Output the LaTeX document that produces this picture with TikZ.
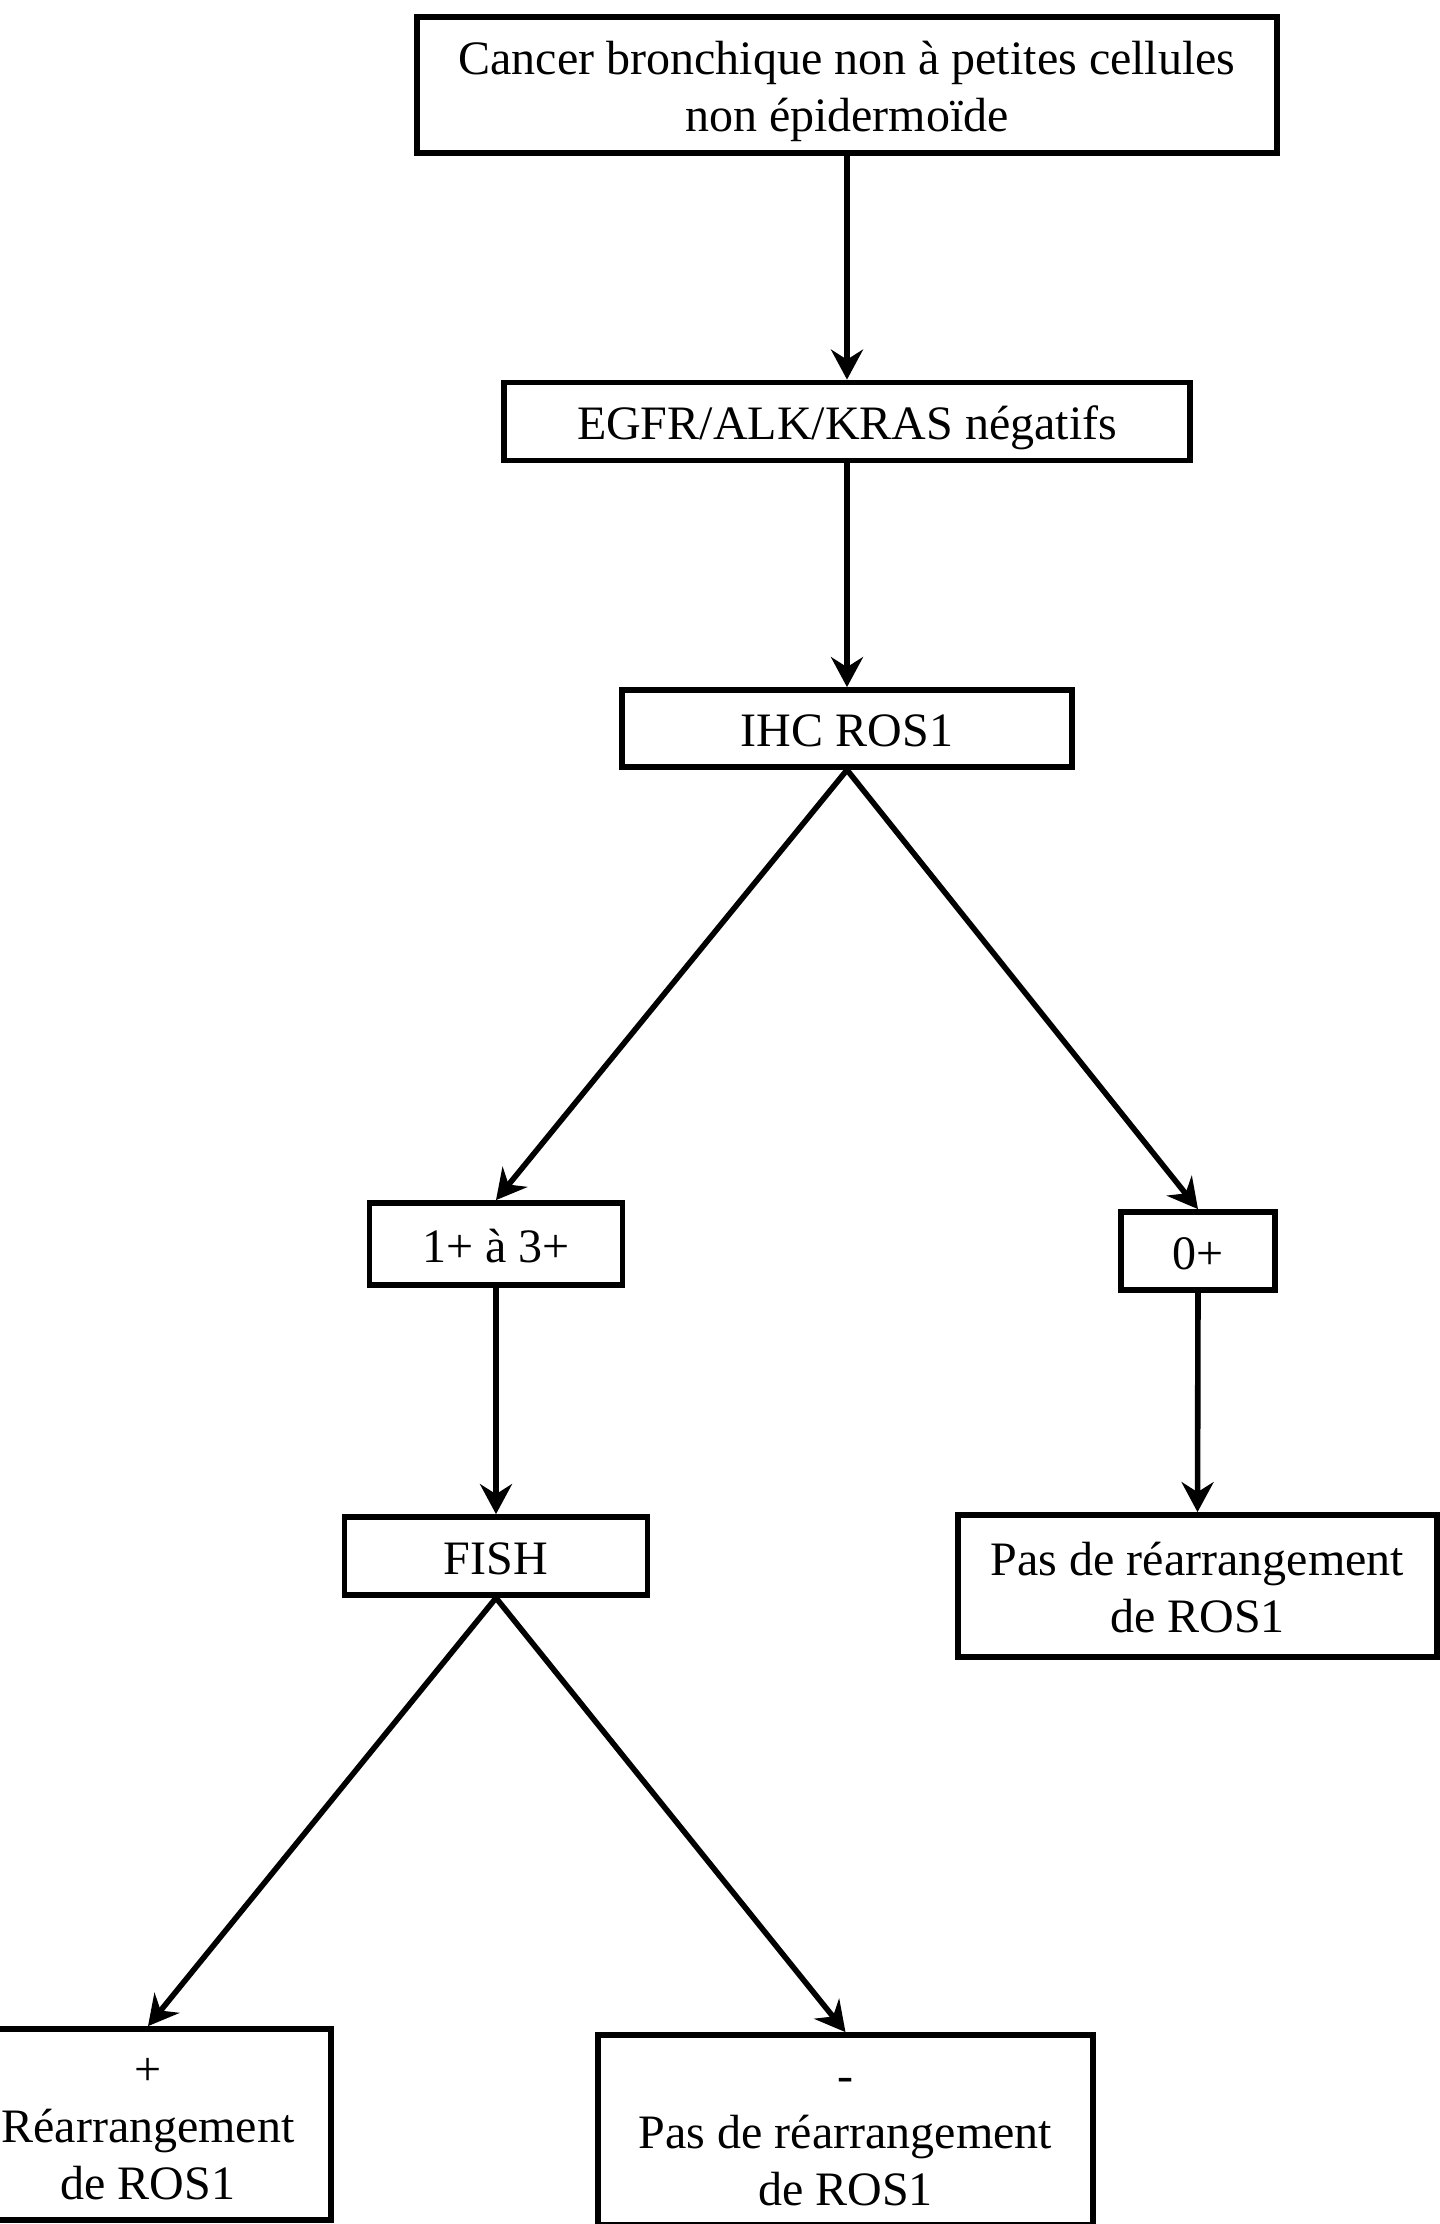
\documentclass[tikz,border=0pt]{standalone}
\usepackage{fontspec}
\setmainfont{Liberation Serif}
\usetikzlibrary{arrows.meta}
\newcommand\boxtext[1]{\raisebox{-3.5pt}[\height][\depth]{\begin{tabular}{@{}c@{}}#1\end{tabular}}}
\begin{document}
\begin{tikzpicture}[x=0.5pt,y=-0.5pt,
  box/.style={draw, line width=2.9pt, rectangle, inner sep=0pt,
              font=\fontsize{24}{28.5}\selectfont},
  arr/.style={line width=2.8pt, -{Stealth[length=15pt,width=16pt,inset=5pt]}}]
\useasboundingbox (0,0) rectangle (1440,2224);
\node[box, minimum width=430pt, minimum height=68pt] (n1) at (847,85)
  {\boxtext{Cancer bronchique non à petites cellules\\non épidermoïde}};
\node[box, minimum width=343pt, minimum height=39pt] (n2) at (847,421.5)
  {\boxtext{EGFR/ALK/KRAS négatifs}};
\node[box, minimum width=225pt, minimum height=38.5pt] (n3) at (847,728.5)
  {\boxtext{IHC ROS1}};
\node[box, minimum width=126.5pt, minimum height=41pt] (n4) at (496,1244)
  {\boxtext{1+ à 3+}};
\node[box, minimum width=77pt, minimum height=39pt] (n5) at (1198,1251)
  {\boxtext{0+}};
\node[box, minimum width=151.5pt, minimum height=39pt] (n6) at (496,1556)
  {\boxtext{FISH}};
\node[box, minimum width=239.5pt, minimum height=71pt] (n7) at (1197.5,1586)
  {\boxtext{Pas de réarrangement\\de ROS1}};
\node[box, minimum width=183pt, minimum height=95.5pt] (n8) at (148,2124.5)
  {\boxtext{+\\Réarrangement\\de ROS1}};
\node[box, minimum width=247.5pt, minimum height=95pt] (n9) at (845.5,2130)
  {\boxtext{-\\Pas de réarrangement\\de ROS1}};
\draw[arr] (n1.south) -- (n2.north);
\draw[arr] (n2.south) -- (n3.north);
\draw[arr] (n3.south) -- (n4.north);
\draw[arr] (n3.south) -- (n5.north);
\draw[arr] (n4.south) -- (n6.north);
\draw[arr] (n5.south) -- (n7.north);
\draw[arr] (n6.south) -- (n8.north);
\draw[arr] (n6.south) -- (n9.north);
\end{tikzpicture}
\end{document}
